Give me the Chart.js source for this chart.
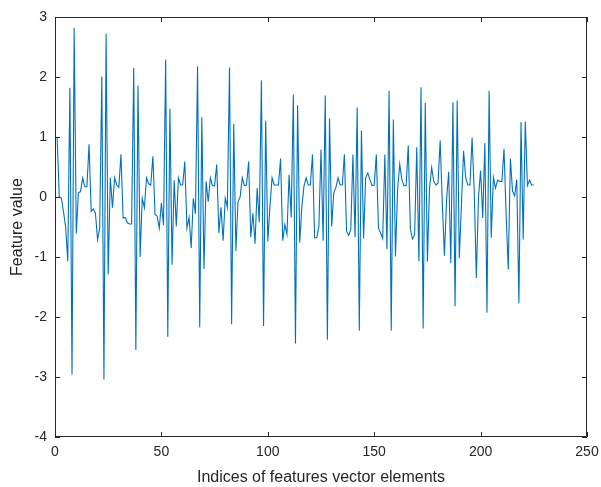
<!DOCTYPE html>
<html>
<head>
<meta charset="utf-8">
<script src="https://cdn.jsdelivr.net/npm/chart.js@4.4.1/dist/chart.umd.min.js"></script>
<style>
  html, body { margin: 0; padding: 0; background: #ffffff; }
  #wrap { width: 601px; height: 487px; position: relative; }
</style>
</head>
<body>
<div id="wrap"><canvas id="c" width="601" height="487"></canvas></div>
<script>
// ---- data ----
const indices = [];
for (let i = 1; i <= 225; i++) indices.push(i);

const featureValues = [
  1.0, 0.0, -0.02, -0.25, -0.5, -1.07, 1.82, -2.96, 2.82, -0.61,
  0.07, 0.09, 0.32, 0.17, 0.17, 0.88, -0.24, -0.2, -0.27, -0.71,
  -0.52, 2.01, -3.04, 2.72, -1.29, 0.32, -0.18, 0.32, 0.2, 0.16,
  0.71, -0.35, -0.34, -0.43, -0.45, -0.45, 2.15, -2.55, 1.86, -1.0,
  -0.02, -0.18, 0.32, 0.22, 0.2, 0.68, -0.29, -0.32, -0.52, -0.1,
  -0.47, 2.29, -2.33, 1.47, -1.13, 0.28, -0.49, 0.32, 0.2, 0.2,
  0.59, -0.52, -0.34, -0.85, -0.02, -0.28, 2.18, -2.17, 1.33, -1.2,
  0.26, -0.08, 0.32, 0.19, 0.19, 0.54, -0.6, -0.17, -0.73, -0.02,
  -0.17, 2.16, -2.12, 1.22, -0.9, -0.08, 0.0, 0.32, 0.19, 0.2,
  0.59, -0.67, -0.27, -0.78, 0.15, -0.42, 1.94, -2.15, 1.27, -0.74,
  -0.16, 0.32, 0.2, 0.2, 0.2, 0.64, -0.73, -0.46, -0.62, 0.37,
  -0.34, 1.71, -2.44, 1.53, -0.76, -0.16, 0.18, 0.32, 0.2, 0.2,
  0.71, -0.68, -0.68, -0.49, 0.79, -0.73, 1.69, -2.38, 1.31, -0.49,
  0.07, 0.16, 0.32, 0.2, 0.2, 0.71, -0.57, -0.64, -0.54, 0.71,
  -0.67, 1.49, -2.23, 1.11, -0.69, 0.32, 0.4, 0.29, 0.19, 0.2,
  0.71, -0.52, -0.6, -0.69, 0.71, -0.87, 1.77, -2.23, 1.29, -0.99,
  0.12, 0.55, 0.29, 0.19, 0.19, 0.86, -0.54, -0.7, -0.63, 0.83,
  -1.07, 1.83, -2.19, 1.57, -1.08, 0.15, 0.49, 0.26, 0.2, 0.23,
  0.94, -0.1, -0.98, -0.05, 0.42, -1.1, 1.58, -1.82, 1.61, -1.02,
  -0.12, 0.77, 0.32, 0.2, 0.2, 0.99, 0.1, -1.35, 0.0, 0.44,
  -0.35, 0.9, -1.93, 1.77, -0.68, 0.33, 0.15, 0.28, 0.26, 0.26,
  0.8, -0.3, -1.21, 0.64, 0.1, 0.02, 0.29, -1.77, 1.25, -0.71,
  1.26, 0.19, 0.28, 0.2, 0.2
];

const xTicks = [0, 50, 100, 150, 200, 250];
const yTicks = [-4, -3, -2, -1, 0, 1, 2, 3];
const xTitle = 'Indices of features vector elements';
const yTitle = 'Feature value';

// ---- chart ----
const axisColor = '#262626';
const fontFamily = '"Liberation Sans", Arial, sans-serif';

const points = indices.map((x, k) => ({ x: x, y: featureValues[k] }));

const frameTicks = {
  id: 'frameTicks',
  afterDatasetsDraw(chart) {
    const { ctx, chartArea: a, scales } = chart;
    const tl = 5;
    ctx.save();
    ctx.strokeStyle = axisColor;
    ctx.lineWidth = 1;
    ctx.beginPath();
    ctx.rect(Math.round(a.left) + 0.5, Math.round(a.top) + 0.5,
             Math.round(a.right - a.left) - 1, Math.round(a.bottom - a.top) - 1);
    ctx.stroke();
    ctx.beginPath();
    xTicks.forEach(v => {
      const px = Math.round(scales.x.getPixelForValue(v)) + 0.5;
      ctx.moveTo(px, a.bottom); ctx.lineTo(px, a.bottom - tl);
      ctx.moveTo(px, a.top); ctx.lineTo(px, a.top + tl);
    });
    yTicks.forEach(v => {
      const py = Math.round(scales.y.getPixelForValue(v)) + 0.5;
      ctx.moveTo(a.left, py); ctx.lineTo(a.left + tl, py);
      ctx.moveTo(a.right, py); ctx.lineTo(a.right - tl, py);
    });
    ctx.stroke();
    ctx.restore();
  }
};

new Chart(document.getElementById('c'), {
  type: 'line',
  data: {
    datasets: [{
      data: points,
      borderColor: '#0072BD',
      borderWidth: 1.1,
      pointRadius: 0,
      tension: 0,
      fill: false
    }]
  },
  options: {
    responsive: false,
    animation: false,
    events: [],
    layout: { padding: { left: 0, top: 17, right: 14, bottom: 0 } },
    plugins: { legend: { display: false }, tooltip: { enabled: false } },
    scales: {
      x: {
        type: 'linear',
        min: 0, max: 250,
        afterFit: s => { s.height = 50; },
        afterBuildTicks: s => { s.ticks = xTicks.map(v => ({ value: v })); },
        grid: { display: false, drawTicks: true, tickLength: 7 },
        border: { display: false },
        ticks: { color: axisColor, padding: 0, maxRotation: 0,
                 font: { family: fontFamily, size: 14 } },
        title: { display: true, text: xTitle, color: axisColor,
                 padding: { top: 0, bottom: 0 },
                 font: { family: fontFamily, size: 16 } }
      },
      y: {
        type: 'linear',
        min: -4, max: 3,
        afterFit: s => { s.width = 55; },
        afterBuildTicks: s => { s.ticks = yTicks.map(v => ({ value: v })); },
        grid: { display: false, drawTicks: true, tickLength: 8 },
        border: { display: false },
        ticks: { color: axisColor, padding: 0,
                 font: { family: fontFamily, size: 14 } },
        title: { display: true, text: yTitle, color: axisColor,
                 padding: { top: 8, bottom: 0 },
                 font: { family: fontFamily, size: 16 } }
      }
    }
  },
  plugins: [frameTicks]
});
</script>
</body>
</html>
